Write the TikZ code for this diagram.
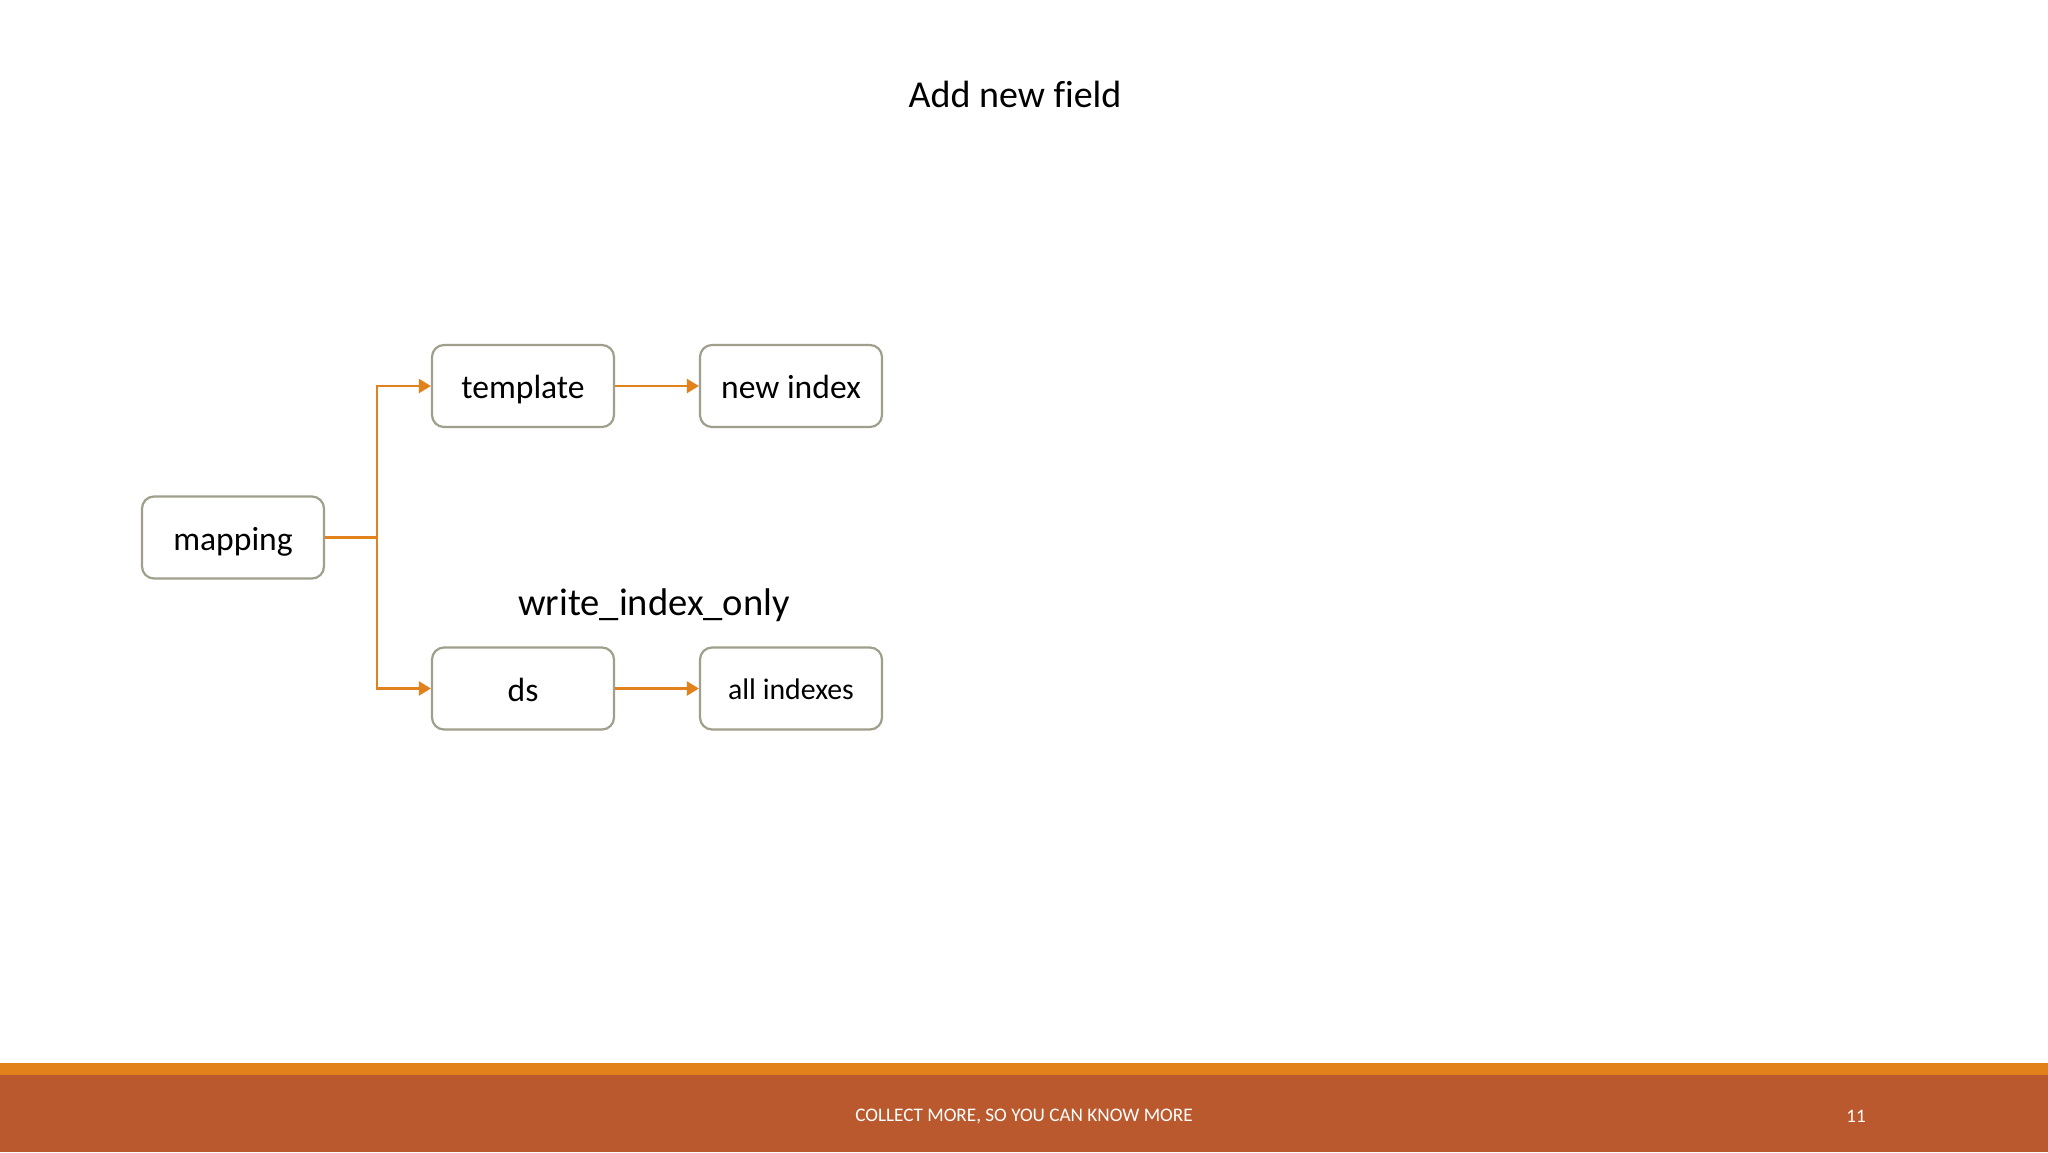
\documentclass[tikz,border=0pt]{standalone}
\usepackage{fontspec}
\setmainfont{Carlito}[Ligatures=NoCommon]
\usetikzlibrary{arrows.meta}
\definecolor{boxline}{HTML}{A09F8C}
\definecolor{arrowor}{HTML}{E2821C}
\definecolor{footor}{HTML}{E2811A}
\definecolor{footred}{HTML}{BA592E}
\tikzset{
  box/.style={draw=boxline, line width=1.1pt, rounded corners=6pt, fill=white,
    minimum width=91pt, minimum height=41pt, inner sep=0pt,
    text height=14pt, text depth=1.4pt, font=\fontsize{16.8pt}{20pt}\selectfont},
  conn/.style={draw=arrowor, line width=1.1pt},
  arr/.style={conn, -{Triangle[length=6pt,width=7pt]}},
}
\begin{document}
\begin{tikzpicture}[x=0.5pt,y=-0.5pt]
\useasboundingbox (0,0) rectangle (2048,1152);
\fill[white] (0,0) rectangle (2048,1152);
% footer
\fill[footor] (0,1063) rectangle (2048,1075);
\fill[footred] (0,1075) rectangle (2048,1152);
\node[text=white, font=\fontsize{9.6pt}{11pt}\selectfont] (foot) at (1024,1116) {COLLECT MORE, SO YOU CAN KNOW MORE};
\node[text=white, font=\fontsize{9.5pt}{11pt}\selectfont] (pagenum) at (1856,1116) {11};
% title
\node[font=\fontsize{19pt}{23pt}\selectfont] (title) at (1015,94) {Add new field};
% boxes
\node[box] (mapping) at (233,537.5) {mapping};
\node[box] (template) at (523,386) {template};
\node[box] (newindex) at (791,386) {new index};
\node[box] (ds) at (523,688.5) {ds};
\node[box, font=\fontsize{14.9pt}{18pt}\selectfont, text height=12.5pt, text depth=1.3pt] (allidx) at (791,688.5) {all indexes};
\node[font=\fontsize{19.3pt}{23pt}\selectfont] (wio) at (654,605) {write\_index\_only};
% connectors
\coordinate (junc) at (377,537.5);
\draw[conn] (mapping.east) -- (junc);
\draw[arr] (junc) |- (template.west);
\draw[arr] (junc) |- (ds.west);
\draw[arr] (template.east) -- (newindex.west);
\draw[arr] (ds.east) -- (allidx.west);
\end{tikzpicture}
\end{document}
